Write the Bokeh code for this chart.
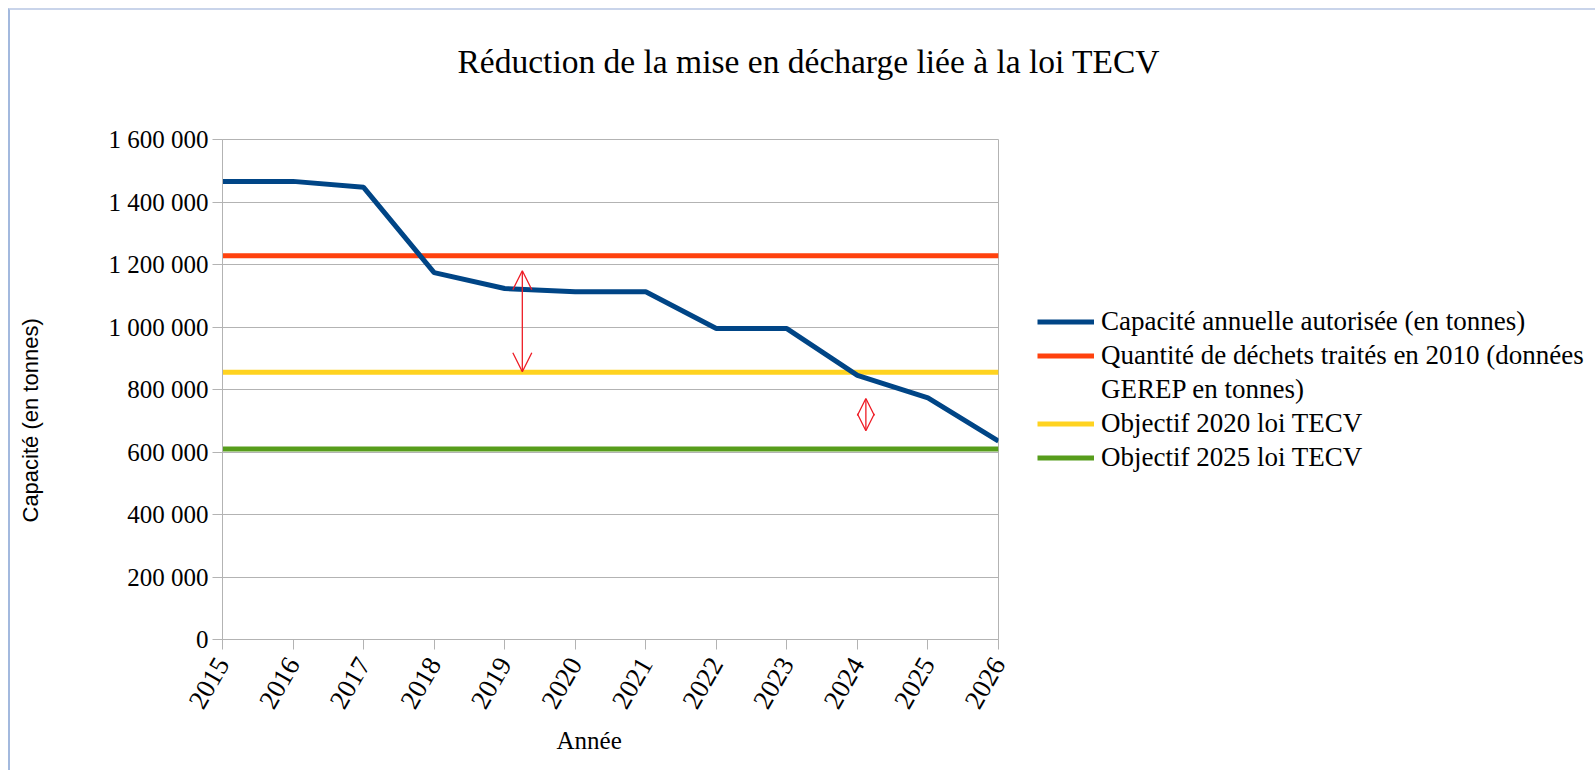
from bokeh.plotting import figure
from bokeh.models import (Range1d, FixedTicker, Legend, LegendItem, Title, Arrow,
                          OpenHead)
from bokeh.embed import file_html
from bokeh.resources import INLINE

# ---------------- data ----------------
years = [2015, 2016, 2017, 2018, 2019, 2020, 2021, 2022, 2023, 2024, 2025, 2026]
capacite = [1466000, 1466000, 1447000, 1174000, 1123000, 1113000, 1113000,
            995000, 995000, 845000, 773000, 635000]
dechets_2010 = 1228000
objectif_2020 = 855000
objectif_2025 = 610000

series_names = [
    "Capacité annuelle autorisée (en tonnes)",
    "Quantité de déchets traités en 2010 (données",
    "GEREP en tonnes)",
    "Objectif 2020 loi TECV",
    "Objectif 2025 loi TECV",
]
y_ticks = [0, 200000, 400000, 600000, 800000, 1000000, 1200000, 1400000, 1600000]
y_tick_labels = ["0", "200 000", "400 000", "600 000", "800 000", "1 000 000",
                 "1 200 000", "1 400 000", "1 600 000"]
x_tick_labels = [str(y) for y in years]

# red annotation arrows (x position, upper end, lower end)
arrow_x = [2019.25, 2024.12]
arrow_top = [1180000, 771000]
arrow_bottom = [857000, 668000]

title_text = "Réduction de la mise en décharge liée à la loi TECV"
x_title = "Année"
y_title = "Capacité (en tonnes)"

# ---------------- figure ----------------
p = figure(frame_width=776, frame_height=500, output_backend="svg", toolbar_location=None,
           x_range=Range1d(years[0], years[-1]), y_range=Range1d(0, 1600000),
           min_border_left=212, min_border_top=129, min_border_right=0,
           min_border_bottom=131, tools="", title_location=None)
p.styles = {"margin-left": "8px", "margin-top": "8px",
            "border-left": "2px solid #a3b9de", "border-top": "2px solid #c9d4ea"}
p.background_fill_color = "white"
p.border_fill_color = "white"
p.outline_line_color = "#b3b3b3"
p.outline_line_width = 1

serif = "Liberation Serif"
grid_col = "#b3b3b3"

# axes
p.xaxis.ticker = FixedTicker(ticks=years)
p.xaxis.major_label_overrides = {y: s for y, s in zip(years, x_tick_labels)}
p.xaxis.major_label_orientation = 1.047
p.yaxis.ticker = FixedTicker(ticks=y_ticks)
p.yaxis.major_label_overrides = {v: s for v, s in zip(y_ticks, y_tick_labels)}
for ax in (p.xaxis, p.yaxis):
    ax.axis_line_color = grid_col
    ax.major_tick_line_color = grid_col
    ax.minor_tick_line_color = None
    ax.major_tick_in = 0
    ax.major_tick_out = 10
    ax.major_label_text_font = serif
    ax.major_label_text_color = "#000000"
p.yaxis.major_label_text_font_size = "25px"
p.yaxis.major_label_standoff = 4
p.xaxis.major_label_text_font_size = "27px"
p.xaxis.major_label_standoff = 10
p.xgrid.grid_line_color = None
p.ygrid.grid_line_color = grid_col
p.ygrid.grid_line_width = 1

# series
n = len(years)
r_ref = p.line(years, [dechets_2010] * n, line_color="#ff420e", line_width=5)
r_o20 = p.line(years, [objectif_2020] * n, line_color="#ffd320", line_width=5)
r_o25 = p.line(years, [objectif_2025] * n, line_color="#579d1c", line_width=5)
r_cap = p.line(years, capacite, line_color="#004586", line_width=5)
# empty renderer used only for the legend's second text line
r_blank = p.line(x=[], y=[], line_alpha=0)

# arrows
red = "#ee1c25"
for i, size in enumerate([19, 17]):
    p.add_layout(Arrow(x_start=arrow_x[i], y_start=arrow_top[i],
                       x_end=arrow_x[i], y_end=arrow_bottom[i],
                       line_color=red, line_width=1.3,
                       start=OpenHead(size=size, line_color=red, line_width=1.3),
                       end=OpenHead(size=size, line_color=red, line_width=1.3)))


def spacer(px):
    return Title(text=" ", text_font_size="1px", standoff=px)


# legend
legend = Legend(items=[
    LegendItem(label=series_names[0], renderers=[r_cap]),
    LegendItem(label=series_names[1], renderers=[r_ref]),
    LegendItem(label=series_names[2], renderers=[r_blank]),
    LegendItem(label=series_names[3], renderers=[r_o20]),
    LegendItem(label=series_names[4], renderers=[r_o25]),
], location="left")
legend.label_text_font = serif
legend.label_text_font_size = "27px"
legend.label_text_color = "#000000"
legend.glyph_width = 57
legend.glyph_height = 20
legend.label_standoff = 7
legend.spacing = 3
legend.padding = 0
legend.margin = 39
legend.border_line_color = None
legend.background_fill_alpha = 0
p.add_layout(legend, "right")

# chart title
p.add_layout(spacer(57), "above")
p.add_layout(Title(text=title_text, align="left", offset=235, text_font=serif,
                   text_font_size="33.5px", text_font_style="normal",
                   text_color="#000000", standoff=0), "above")

# axis titles
p.add_layout(spacer(60), "left")
p.add_layout(Title(text=y_title, align="left", offset=117, text_font="Liberation Sans",
                   text_font_size="22px", text_font_style="normal",
                   text_color="#000000", standoff=0), "left")
p.add_layout(Title(text=x_title, align="left", offset=334, text_font=serif,
                   text_font_size="25px", text_font_style="normal",
                   text_color="#000000", standoff=16, vertical_align="top"), "below")

open("out.html", "w").write(file_html(p, INLINE))
